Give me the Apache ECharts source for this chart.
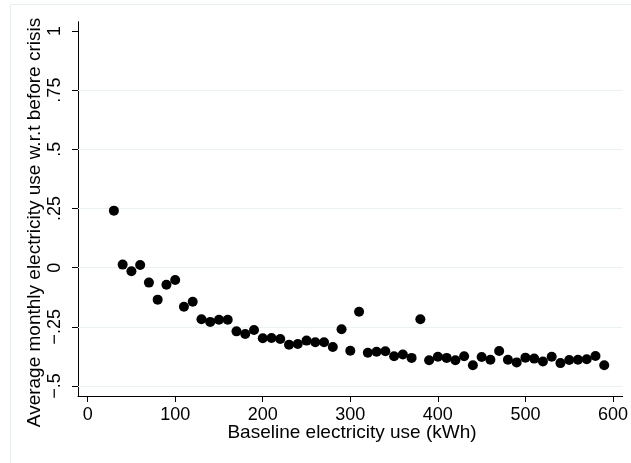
<!DOCTYPE html>
<html>
<head>
<meta charset="utf-8">
<script src="https://cdn.jsdelivr.net/npm/echarts@6/dist/echarts.min.js"></script>
<style>html,body{margin:0;padding:0;background:#fff;}#c{width:631px;height:463px;}</style>
</head>
<body>
<div id="c"></div>
<script>
var xValues = [30,40,50,60,70,80,90,100,110,120,130,140,150,160,170,180,190,200,210,220,230,240,250,260,270,280,290,300,310,320,330,340,350,360,370,380,390,400,410,420,430,440,450,460,470,480,490,500,510,520,530,540,550,560,570,580,590];
var yValues = [0.241,0.013,-0.015,0.011,-0.063,-0.135,-0.072,-0.052,-0.165,-0.144,-0.218,-0.229,-0.220,-0.220,-0.269,-0.280,-0.263,-0.298,-0.297,-0.301,-0.325,-0.322,-0.308,-0.315,-0.315,-0.335,-0.260,-0.351,-0.186,-0.359,-0.355,-0.353,-0.374,-0.367,-0.381,-0.218,-0.391,-0.376,-0.381,-0.391,-0.374,-0.412,-0.377,-0.389,-0.352,-0.389,-0.400,-0.380,-0.384,-0.396,-0.376,-0.403,-0.390,-0.389,-0.387,-0.373,-0.412];
var xTicks = [0,100,200,300,400,500,600];
var yTicks = [-0.5,-0.25,0,0.25,0.5,0.75,1];
var yTickLabels = ['\u2212.5','\u2212.25','0','.25','.5','.75','1'];
var yGridValues = [-0.5,-0.25,0,0.25,0.5,0.75];
var xTitle = 'Baseline electricity use (kWh)';
var yTitle = 'Average monthly electricity use w.r.t before crisis';

var FONT = '"Liberation Sans", Arial, Helvetica, sans-serif';
var chart = echarts.init(document.getElementById('c'), null, {renderer: 'canvas'});
var pts = xValues.map(function (x, i) { return [x, yValues[i]]; });

chart.setOption({
  animation: false,
  backgroundColor: '#ffffff',
  grid: {left: 78, right: 4, top: 21.7, bottom: 67, containLabel: false},
  xAxis: {
    type: 'value', min: -11, max: 611,
    axisLine: {show: true, onZero: false, lineStyle: {color: '#000', width: 1}},
    axisTick: {show: true, length: 6, lineStyle: {color: '#000'}, customValues: xTicks},
    axisLabel: {customValues: xTicks, color: '#000', fontSize: 18, fontFamily: FONT, margin: 10},
    splitLine: {show: false}
  },
  yAxis: {
    type: 'value', min: -0.542, max: 1.039,
    axisLine: {show: true, onZero: false, lineStyle: {color: '#000', width: 1}},
    axisTick: {show: true, length: 6, lineStyle: {color: '#000'}, customValues: yTicks},
    axisLabel: {
      customValues: yTicks, rotate: 90, color: '#000', fontSize: 18, fontFamily: FONT, margin: 14,
      formatter: function (v) {
        for (var i = 0; i < yTicks.length; i++) { if (Math.abs(yTicks[i] - v) < 1e-9) return yTickLabels[i]; }
        return '';
      }
    },
    splitLine: {show: false}
  },
  graphic: [
    {type: 'rect', silent: true, z: -10, shape: {x: 10.5, y: 4.5, width: 640, height: 480}, style: {fill: 'none', stroke: '#e6eef1', lineWidth: 1}},
    {type: 'text', silent: true, x: 352, y: 433, style: {text: xTitle, font: '19px ' + FONT, fill: '#000', align: 'center', verticalAlign: 'middle'}},
    {type: 'text', silent: true, x: 35, y: 222.5, rotation: Math.PI / 2, style: {text: yTitle, font: '19px ' + FONT, fill: '#000', align: 'center', verticalAlign: 'middle'}}
  ],
  series: [
    {
      type: 'scatter', symbol: 'circle', symbolSize: 10, data: pts,
      itemStyle: {color: '#000', opacity: 1}, z: 5,
      markLine: {
        silent: true, symbol: ['none', 'none'], label: {show: false}, animation: false,
        lineStyle: {color: '#eaf2f3', type: 'solid', width: 1},
        data: yGridValues.map(function (v) { return {yAxis: v}; })
      }
    }
  ]
});
</script>
</body>
</html>
